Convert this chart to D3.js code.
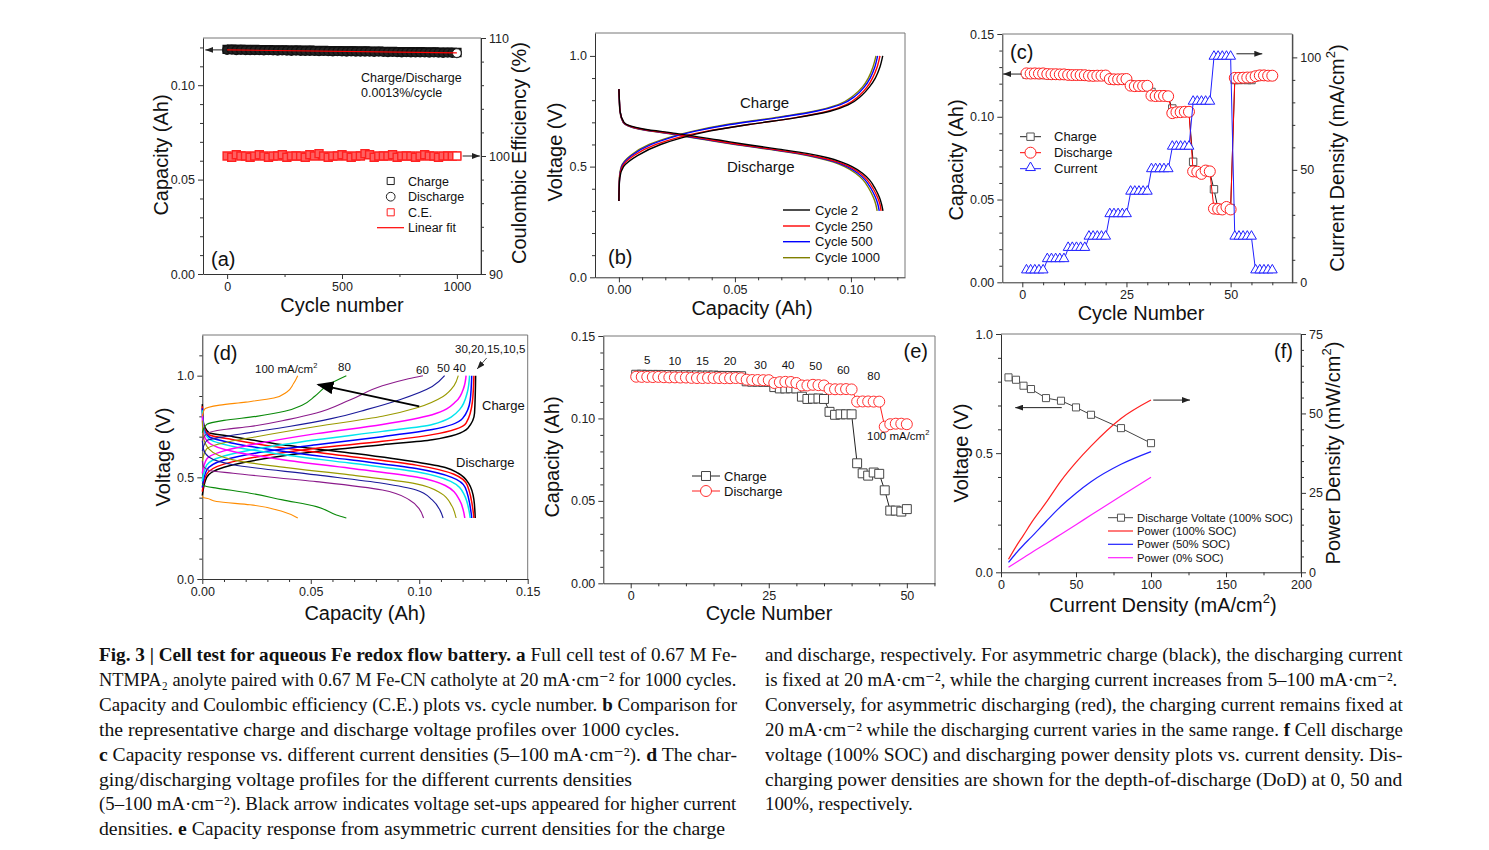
<!DOCTYPE html>
<html><head><meta charset="utf-8">
<script src="https://cdn.jsdelivr.net/npm/d3@7"></script>
<style>body{margin:0;background:#fff;} text.cap{white-space:pre;}</style>
</head><body>
<svg id="fig" width="1489" height="850"></svg>
<script>
// ================= DATA =================
// (a) long cycling
const aCycles=[0,20,40,60,80,100,120,140,160,180,200,220,240,260,280,300,320,340,360,380,400,420,440,460,480,500,520,540,560,580,600,620,640,660,680,700,720,740,760,780,800,820,840,860,880,900,920,940,960,980,1000];
const aCharge=[0.1190,0.1191,0.1189,0.1190,0.1189,0.1188,0.1189,0.1188,0.1187,0.1188,0.1187,0.1186,0.1187,0.1186,0.1185,0.1186,0.1185,0.1184,0.1185,0.1184,0.1183,0.1184,0.1183,0.1182,0.1183,0.1182,0.1181,0.1182,0.1181,0.1180,0.1181,0.1180,0.1179,0.1180,0.1179,0.1178,0.1179,0.1178,0.1177,0.1178,0.1177,0.1176,0.1177,0.1176,0.1175,0.1176,0.1175,0.1174,0.1175,0.1174,0.1173];
const aDischarge=[0.1187,0.1188,0.1186,0.1187,0.1186,0.1185,0.1186,0.1185,0.1184,0.1185,0.1184,0.1183,0.1184,0.1183,0.1182,0.1183,0.1182,0.1181,0.1182,0.1181,0.1180,0.1181,0.1180,0.1179,0.1180,0.1179,0.1178,0.1179,0.1178,0.1177,0.1178,0.1177,0.1176,0.1177,0.1176,0.1175,0.1176,0.1175,0.1174,0.1175,0.1174,0.1173,0.1174,0.1173,0.1172,0.1173,0.1172,0.1171,0.1172,0.1171,0.1170];
const aCE=[100.0,99.9,100.1,100.0,100.0,99.9,100.0,100.1,100.0,99.9,100.0,100.0,100.1,99.9,100.0,100.0,100.0,99.9,100.1,100.0,100.2,100.0,99.9,100.0,100.0,100.1,100.0,99.9,100.0,100.0,100.2,100.1,99.9,100.0,100.0,100.0,100.1,99.9,100.0,100.0,100.0,99.9,100.0,100.1,100.0,100.0,99.9,100.0,100.0,100.0,100.0];
const aFitCycles=[0,1000];
const aFitCap=[0.1187,0.1171];

// (b) voltage profiles: capacity at given voltage levels
const bChargeV=[0.345,0.40,0.45,0.50,0.55,0.60,0.63,0.66,0.69,0.72,0.75,0.78,0.82,0.86,0.90,0.95,1.00];
const bChargeCyc2=[0,0.0001,0.0004,0.0020,0.0080,0.0180,0.0270,0.0390,0.0560,0.0760,0.0910,0.0990,0.1045,0.1080,0.1105,0.1125,0.1137];
const bChargeCyc250=[0,0.0001,0.0003,0.0015,0.0065,0.0160,0.0250,0.0380,0.0560,0.0755,0.0900,0.0980,0.1035,0.1070,0.1093,0.1113,0.1125];
const bChargeCyc500=[0,0.0001,0.0003,0.0012,0.0055,0.0140,0.0220,0.0330,0.0480,0.0680,0.0850,0.0955,0.1020,0.1058,0.1083,0.1103,0.1115];
const bChargeCyc1000=[0,0.0001,0.0002,0.0010,0.0050,0.0130,0.0210,0.0320,0.0465,0.0665,0.0840,0.0945,0.1010,0.1050,0.1075,0.1095,0.1108];
const bDischV=[0.85,0.80,0.75,0.70,0.67,0.65,0.62,0.60,0.58,0.56,0.54,0.52,0.50,0.47,0.44,0.40,0.36,0.33,0.30];
const bDischCyc2=[0,0.0002,0.0005,0.0022,0.0105,0.0245,0.043,0.055,0.068,0.081,0.090,0.0960,0.1005,0.1050,0.1080,0.1105,0.1123,0.1132,0.1138];
const bDischCyc250=[0,0.0002,0.0005,0.0020,0.0095,0.0225,0.040,0.052,0.065,0.078,0.0875,0.0945,0.0993,0.1040,0.1070,0.1096,0.1115,0.1125,0.1130];
const bDischCyc500=[0,0.0002,0.0005,0.0019,0.0090,0.0215,0.039,0.051,0.064,0.077,0.0865,0.0935,0.0983,0.1030,0.1061,0.1087,0.1106,0.1116,0.1122];
const bDischCyc1000=[0,0.0002,0.0004,0.0018,0.0085,0.0205,0.038,0.050,0.063,0.076,0.0855,0.0925,0.0973,0.1020,0.1052,0.1078,0.1097,0.1107,0.1113];
const bNames=["Cycle 2","Cycle 250","Cycle 500","Cycle 1000"];

// (c) rate capability
const cCycles=[1,2,3,4,5,6,7,8,9,10,11,12,13,14,15,16,17,18,19,20,21,22,23,24,25,26,27,28,29,30,31,32,33,34,35,36,37,38,39,40,41,42,43,44,45,46,47,48,49,50,51,52,53,54,55,56,57,58,59,60];
const cCharge=[0.1255,0.1254,0.1254,0.1253,0.1253,0.1252,0.1252,0.1251,0.1251,0.1250,0.1248,0.1247,0.1247,0.1246,0.1246,0.1244,0.1243,0.1243,0.1242,0.1242,0.1225,0.1222,0.1221,0.1221,0.1220,0.1195,0.1182,0.1181,0.1181,0.1180,0.1150,0.1125,0.1122,0.1121,0.1120,0.1050,0.1030,0.1027,0.1027,0.1028,0.0728,0.0668,0.0660,0.0670,0.0665,0.0562,0.0442,0.0440,0.0445,0.0448,0.1222,0.1222,0.1223,0.1222,0.1222,0.1240,0.1243,0.1244,0.1245,0.1245];
const cDischarge=[0.1262,0.1261,0.1262,0.1261,0.1262,0.1258,0.1257,0.1257,0.1256,0.1256,0.1253,0.1252,0.1252,0.1252,0.1251,0.1248,0.1247,0.1248,0.1248,0.1249,0.1228,0.1226,0.1226,0.1227,0.1228,0.1188,0.1185,0.1186,0.1186,0.1187,0.1128,0.1125,0.1126,0.1126,0.1124,0.1022,0.1027,0.1028,0.1030,0.1030,0.0670,0.0668,0.0655,0.0675,0.0670,0.0445,0.0443,0.0440,0.0455,0.0440,0.1235,0.1235,0.1236,0.1237,0.1238,0.1245,0.1250,0.1250,0.1248,0.1248];
const cCurrent=[5,5,5,5,5,10,10,10,10,10,15,15,15,15,15,20,20,20,20,20,30,30,30,30,30,40,40,40,40,40,50,50,50,50,50,60,60,60,60,60,80,80,80,80,80,100,100,100,100,100,20,20,20,20,20,5,5,5,5,5];

// (d) voltage profiles at different current densities, [capacity, voltage]
const dCurrents=[5,10,15,20,30,40,50,60,80,100];
const dCh5=[[0,0.41],[0.002,0.50],[0.01,0.55],[0.025,0.585],[0.0526,0.627],[0.083,0.66],[0.106,0.685],[0.1224,0.742],[0.1255,0.816],[0.126,1.0]];
const dCh10=[[0,0.43],[0.002,0.515],[0.01,0.565],[0.025,0.60],[0.0526,0.643],[0.083,0.677],[0.106,0.71],[0.1216,0.767],[0.1245,0.87],[0.1252,1.0]];
const dCh15=[[0,0.45],[0.002,0.535],[0.01,0.585],[0.025,0.62],[0.0526,0.66],[0.083,0.70],[0.106,0.735],[0.12,0.79],[0.1235,0.88],[0.1242,1.0]];
const dCh20=[[0,0.48],[0.002,0.56],[0.01,0.605],[0.025,0.64],[0.0526,0.685],[0.083,0.726],[0.106,0.76],[0.1186,0.833],[0.1222,0.92],[0.1232,1.0]];
const dCh30=[[0,0.52],[0.002,0.59],[0.01,0.63],[0.025,0.665],[0.0526,0.715],[0.083,0.76],[0.106,0.808],[0.117,0.874],[0.1205,0.94],[0.1216,1.0]];
const dCh40=[[0,0.58],[0.002,0.64],[0.01,0.67],[0.025,0.70],[0.0526,0.75],[0.083,0.80],[0.0986,0.841],[0.111,0.898],[0.116,0.95],[0.118,1.0]];
const dCh50=[[0,0.63],[0.002,0.68],[0.01,0.70],[0.022,0.72],[0.04,0.75],[0.06,0.79],[0.0756,0.833],[0.091,0.882],[0.106,0.947],[0.1117,1.0]];
const dCh60=[[0,0.68],[0.002,0.715],[0.01,0.735],[0.022,0.75],[0.04,0.785],[0.0526,0.816],[0.068,0.88],[0.083,0.95],[0.095,0.985],[0.1017,1.0]];
const dCh80=[[0,0.72],[0.002,0.76],[0.01,0.78],[0.025,0.80],[0.038,0.825],[0.046,0.855],[0.052,0.90],[0.058,0.955],[0.0664,1.0]];
const dCh100=[[0,0.80],[0.001,0.835],[0.008,0.855],[0.02,0.87],[0.033,0.89],[0.039,0.92],[0.042,0.96],[0.044,1.0]];
const dDis5=[[0,0.86],[0.0005,0.77],[0.003,0.72],[0.0142,0.70],[0.037,0.66],[0.068,0.62],[0.0986,0.575],[0.112,0.548],[0.118,0.52],[0.1228,0.47],[0.1252,0.39],[0.1258,0.30]];
const dDis10=[[0,0.85],[0.0005,0.76],[0.003,0.71],[0.0142,0.685],[0.037,0.645],[0.068,0.603],[0.0986,0.56],[0.116,0.515],[0.1222,0.46],[0.1252,0.30]];
const dDis15=[[0,0.84],[0.0005,0.75],[0.003,0.70],[0.0142,0.668],[0.037,0.628],[0.068,0.586],[0.0986,0.543],[0.115,0.50],[0.1212,0.45],[0.1242,0.30]];
const dDis20=[[0,0.83],[0.0005,0.74],[0.003,0.69],[0.0142,0.652],[0.037,0.612],[0.068,0.57],[0.0986,0.527],[0.1145,0.48],[0.1205,0.42],[0.1235,0.30]];
const dDis30=[[0,0.81],[0.0005,0.72],[0.003,0.67],[0.0142,0.627],[0.037,0.587],[0.068,0.545],[0.0986,0.502],[0.112,0.46],[0.1185,0.39],[0.1210,0.30]];
const dDis40=[[0,0.78],[0.0005,0.70],[0.003,0.64],[0.0142,0.586],[0.037,0.55],[0.068,0.512],[0.0986,0.468],[0.110,0.422],[0.1150,0.36],[0.117,0.30]];
const dDis50=[[0,0.68],[0.0005,0.64],[0.003,0.60],[0.0142,0.562],[0.0526,0.512],[0.083,0.471],[0.0986,0.438],[0.106,0.389],[0.1095,0.34],[0.111,0.30]];
const dDis60=[[0,0.58],[0.0005,0.555],[0.003,0.535],[0.0142,0.52],[0.0526,0.479],[0.083,0.438],[0.0955,0.389],[0.1,0.345],[0.102,0.30]];
const dDis80=[[0,0.47],[0.0005,0.46],[0.002,0.455],[0.0066,0.447],[0.022,0.422],[0.037,0.389],[0.0526,0.356],[0.0618,0.315],[0.0664,0.30]];
const dDis100=[[0,0.41],[0.0005,0.40],[0.002,0.397],[0.0066,0.381],[0.022,0.365],[0.037,0.332],[0.044,0.30]];

// (e) asymmetric currents
const eCycles=[1,2,3,4,5,6,7,8,9,10,11,12,13,14,15,16,17,18,19,20,21,22,23,24,25,26,27,28,29,30,31,32,33,34,35,36,37,38,39,40,41,42,43,44,45,46,47,48,49,50];
const eCharge=[0.1265,0.1265,0.1264,0.1264,0.1264,0.1263,0.1263,0.1262,0.1262,0.1262,0.1261,0.1261,0.1260,0.1260,0.1260,0.1258,0.1258,0.1257,0.1257,0.1256,0.1225,0.1223,0.1223,0.1222,0.1222,0.1190,0.1182,0.1182,0.1183,0.1182,0.1132,0.1118,0.1120,0.1121,0.1118,0.1040,0.1022,0.1025,0.1025,0.1025,0.0728,0.0667,0.0653,0.0672,0.0664,0.0564,0.0441,0.0441,0.0435,0.0450];
const eDischarge=[0.1253,0.1252,0.1252,0.1251,0.1252,0.1250,0.1249,0.1249,0.1248,0.1248,0.1246,0.1245,0.1245,0.1246,0.1245,0.1245,0.1244,0.1244,0.1245,0.1244,0.1235,0.1233,0.1233,0.1232,0.1232,0.1215,0.1220,0.1222,0.1221,0.1215,0.1200,0.1200,0.1204,0.1202,0.1200,0.1178,0.1177,0.1177,0.1178,0.1176,0.1102,0.1103,0.1103,0.1102,0.1102,0.0950,0.0965,0.0968,0.0968,0.0965];
const eRateLabels=["5","10","15","20","30","40","50","60","80"];
const eRateLabelCycle=[3,8,13,18,23.5,28.5,33.5,38.5,44];
const eRateLabelCap=[0.1330,0.1325,0.1323,0.1322,0.1300,0.1298,0.1296,0.1270,0.1235];

// (f) discharge voltage and power density
const fCurrent=[5,10,15,20,30,40,50,60,80,100];
const fVoltage=[0.818,0.808,0.783,0.769,0.731,0.720,0.692,0.661,0.605,0.542];
const fPower100=[4.1,8.1,11.7,15.4,21.9,28.8,34.6,39.7,48.4,54.2];
const fPower50=[3.1,6.0,8.6,11.0,16.0,20.8,24.9,28.5,34.0,38.0];
const fPower0=[1.6,3.1,4.6,6.1,9.0,12.0,15.0,18.0,24.0,29.9];

// ticks
const aXMaj=[0,500,1000], aXMin=[250,750];
const aYMaj=[0,0.05,0.10], aYMin=[0.01,0.02,0.03,0.04,0.06,0.07,0.08,0.09,0.11,0.12];
const aRMaj=[90,100,110], aRMin=[92,94,96,98,102,104,106,108];
const bXMaj=[0,0.05,0.10], bXMin=[0.01,0.02,0.03,0.04,0.06,0.07,0.08,0.09,0.11,0.12];
const bYMaj=[0,0.5,1.0], bYMin=[0.1,0.2,0.3,0.4,0.6,0.7,0.8,0.9];
const cXMaj=[0,25,50], cXMin=[5,10,15,20,30,35,40,45,55,60];
const cYMaj=[0,0.05,0.10,0.15], cYMin=[0.01,0.02,0.03,0.04,0.06,0.07,0.08,0.09,0.11,0.12,0.13,0.14];
const cRMaj=[0,50,100], cRMin=[10,20,30,40,60,70,80,90];
const dXMaj=[0,0.05,0.10,0.15], dXMin=[0.01,0.02,0.03,0.04,0.06,0.07,0.08,0.09,0.11,0.12,0.13,0.14];
const dYMaj=[0,0.5,1.0], dYMin=[0.1,0.2,0.3,0.4,0.6,0.7,0.8,0.9,1.1];
const eXMaj=[0,25,50], eXMin=[5,10,15,20,30,35,40,45,55];
const eYMaj=[0,0.05,0.10,0.15], eYMin=[0.01,0.02,0.03,0.04,0.06,0.07,0.08,0.09,0.11,0.12,0.13,0.14];
const fXMaj=[0,50,100,150,200], fXMin=[25,75,125,175];
const fYMaj=[0,0.5,1.0], fYMin=[0.1,0.2,0.3,0.4,0.6,0.7,0.8,0.9];
const fRMaj=[0,25,50,75], fRMin=[5,10,15,20,30,35,40,45,55,60,65,70];

// caption
const capLeft=[
 [["Fig. 3 | Cell test for aqueous Fe redox flow battery.","b"]," ",["a","b"]," Full cell test of 0.67 M Fe-"],
 ["NTMPA₂ anolyte paired with 0.67 M Fe-CN catholyte at 20 mA·cm⁻² for 1000 cycles."],
 ["Capacity and Coulombic efficiency (C.E.) plots vs. cycle number. ",["b","b"]," Comparison for"],
 ["the representative charge and discharge voltage profiles over 1000 cycles."],
 [["c","b"]," Capacity response vs. different current densities (5–100 mA·cm⁻²). ",["d","b"]," The char-"],
 ["ging/discharging voltage profiles for the different currents densities"],
 ["(5–100 mA·cm⁻²). Black arrow indicates voltage set-ups appeared for higher current"],
 ["densities. ",["e","b"]," Capacity response from asymmetric current densities for the charge"]
];
const capLeftEnd=[737,737,737,680,737,632,737,725];
const capRight=[
 ["and discharge, respectively. For asymmetric charge (black), the discharging current"],
 ["is fixed at 20 mA·cm⁻², while the charging current increases from 5–100 mA·cm⁻²."],
 ["Conversely, for asymmetric discharging (red), the charging current remains fixed at"],
 ["20 mA·cm⁻² while the discharging current varies in the same range. ",["f","b"]," Cell discharge"],
 ["voltage (100% SOC) and discharging power density plots vs. current density. Dis-"],
 ["charging power densities are shown for the depth-of-discharge (DoD) at 0, 50 and"],
 ["100%, respectively."]
];
const capRightEnd=[1403,1398,1403,1403,1403,1403,913];

// ================= DRAWING =================
const FONT='"Liberation Sans", Arial, sans-serif';
const svg=d3.select('#fig');
svg.append('rect').attr('width',1489).attr('height',850).attr('fill','#fff');
const defs=svg.append('defs');
defs.append('marker').attr('id','sa').attr('markerUnits','userSpaceOnUse').attr('markerWidth',8).attr('markerHeight',6)
  .attr('refX',8).attr('refY',3).attr('orient','auto').append('path').attr('d','M0,0L8,3L0,6Z').attr('fill','#222');
defs.append('marker').attr('id','ba').attr('markerUnits','userSpaceOnUse').attr('markerWidth',17).attr('markerHeight',13)
  .attr('refX',15).attr('refY',6.5).attr('orient','auto').append('path').attr('d','M0,0L17,6.5L0,13Z').attr('fill','#000');

function panel(box,xDom,yDom,rDom){
  const sx=d3.scaleLinear().domain(xDom).range([box.x0,box.x1]);
  const sy=d3.scaleLinear().domain(yDom).range([box.y0,box.y1]);
  const sr=rDom?d3.scaleLinear().domain(rDom).range([box.y0,box.y1]):null;
  return {g:svg.append('g'),sx,sy,sr,box};
}
function axis(p,orient,scale,maj,min,fmt){
  const b=p.box;
  const gen=orient==='left'?d3.axisLeft:orient==='right'?d3.axisRight:d3.axisBottom;
  const tr=orient==='left'?`translate(${b.x0},0)`:orient==='right'?`translate(${b.x1},0)`:`translate(0,${b.y0})`;
  p.g.append('g').attr('transform',tr).call(gen(scale).tickValues(min).tickSize(3).tickFormat('').tickSizeOuter(0))
   .call(s=>{s.select('.domain').remove();s.selectAll('line').attr('stroke','#333');});
  const ax=p.g.append('g').attr('transform',tr).call(gen(scale).tickValues(maj).tickFormat(d3.format(fmt)).tickSize(5).tickPadding(3).tickSizeOuter(0));
  ax.attr('font-family',FONT).attr('font-size',12.5);
  ax.selectAll('line,path').attr('stroke','#333');
  ax.selectAll('text').attr('fill','#222');
}
function frame(p){const b=p.box;p.g.append('path').attr('d',`M${b.x0},${b.y1}H${b.x1}V${b.y0}`).attr('fill','none').attr('stroke','#777');}
function label(g,x,y,parts,size,anchor,rot,fill){
  const t=g.append('text').attr('font-family',FONT).attr('font-size',size).attr('fill',fill||'#111').attr('text-anchor',anchor||'start');
  if(rot) t.attr('transform',`translate(${x},${y}) rotate(-90)`); else t.attr('x',x).attr('y',y);
  let sh=0;
  (Array.isArray(parts)?parts:[parts]).forEach(pt=>{
    const [s,st]=typeof pt==='string'?[pt,'']:pt;
    const ts=t.append('tspan').text(s);
    const tg=st==='sup'?-size*0.45:0;
    if(tg!==sh){ts.attr('dy',tg-sh);sh=tg;}
    if(st==='sup') ts.attr('font-size',size*0.65);
  });
  return t;
}
function syms(g,n,xf,yf,type,size,stroke,fill,sw){
  g.append('g').selectAll('path').data(d3.range(n)).join('path')
   .attr('transform',i=>`translate(${xf(i)},${yf(i)})`).attr('d',d3.symbol().type(type).size(size))
   .attr('fill',fill||'none').attr('stroke',stroke).attr('stroke-width',sw||1);
}
function arrow(g,x1,y1,x2,y2,m,w){
  g.append('line').attr('x1',x1).attr('y1',y1).attr('x2',x2).attr('y2',y2).attr('stroke',m==='ba'?'#000':'#222').attr('stroke-width',w||1).attr('marker-end',`url(#${m})`);
}

// ---------- (a)
{
 const p=panel({x0:203,x1:481,y0:274,y1:38},[-105,1105],[0,0.125],[90,110]);
 frame(p);
 axis(p,'left',p.sy,aYMaj,aYMin,'.2f');
 axis(p,'right',p.sr,aRMaj,aRMin,'d');
 axis(p,'bottom',p.sx,aXMaj,aXMin,'d');
 syms(p.g,aCycles.length,i=>p.sx(aCycles[i]),i=>p.sr(aCE[i]),d3.symbolSquare,64,'#ff2020','#ff6060',1.4);
 syms(p.g,aCycles.length,i=>p.sx(aCycles[i]),i=>p.sy(aCharge[i]),d3.symbolSquare,64,'#111','#222',1.4);
 syms(p.g,aCycles.length,i=>p.sx(aCycles[i]),i=>p.sy(aDischarge[i]),d3.symbolCircle,60,'#111','#222',1.4);
 const last=aCycles.length-1;
 syms(p.g,1,()=>p.sx(aCycles[last]),()=>p.sy(aDischarge[last]),d3.symbolCircle,60,'#222','#fff',1);
 syms(p.g,1,()=>p.sx(aCycles[last]),()=>p.sr(aCE[last]),d3.symbolSquare,60,'#ff2020','#fff',1);
 p.g.append('path').attr('d',d3.line().x((d,i)=>p.sx(aFitCycles[i])).y((d,i)=>p.sy(aFitCap[i]))(aFitCycles)).attr('stroke','#ff0000').attr('stroke-width',1.2).attr('fill','none');
 arrow(p.g,p.sx(-20),p.sy(0.1187),p.sx(-95),p.sy(0.1187),'sa');
 arrow(p.g,p.sx(1025),p.sr(100),p.sx(1100),p.sr(100),'sa');
 label(p.g,361,82,'Charge/Discharge',12.5);
 label(p.g,361,97,'0.0013%/cycle',12.5);
 const ly=[181,196.7,212.3,227.7];
 syms(p.g,1,()=>390.7,()=>ly[0],d3.symbolSquare,50,'#222');
 syms(p.g,1,()=>390.7,()=>ly[1],d3.symbolCircle,60,'#222');
 syms(p.g,1,()=>390.7,()=>ly[2],d3.symbolSquare,50,'#ff2020');
 p.g.append('line').attr('x1',377).attr('x2',404).attr('y1',ly[3]).attr('y2',ly[3]).attr('stroke','#ff0000').attr('stroke-width',1.2);
 ['Charge','Discharge','C.E.','Linear fit'].forEach((s,i)=>label(p.g,408,ly[i]+4.5,s,12.5));
 label(p.g,211,266,'(a)',20);
 label(p.g,168,155,'Capacity (Ah)',20,'middle',true);
 label(p.g,526,153,'Coulombic Efficiency (%)',20,'middle',true);
 label(p.g,342,312,'Cycle number',20,'middle');
}
// ---------- (b)
{
 const p=panel({x0:595,x1:905,y0:277.3,y1:33},[-0.0103,0.1233],[0,1.1035]);
 frame(p);
 axis(p,'left',p.sy,bYMaj,bYMin,'.1f');
 axis(p,'bottom',p.sx,bXMaj,bXMin,'.2f');
 const cols=['#000000','#ff0000','#0000ff','#808000'];
 const ch=[bChargeCyc2,bChargeCyc250,bChargeCyc500,bChargeCyc1000];
 const di=[bDischCyc2,bDischCyc250,bDischCyc500,bDischCyc1000];
 const line=d3.line().x(d=>p.sx(d[0])).y(d=>p.sy(d[1])).curve(d3.curveMonotoneY);
 [3,2,1,0].forEach(k=>{
  p.g.append('path').attr('d',line(bChargeV.map((v,i)=>[ch[k][i],v]))).attr('stroke',cols[k]).attr('stroke-width',1.4).attr('fill','none');
  p.g.append('path').attr('d',line(bDischV.map((v,i)=>[di[k][i],v]))).attr('stroke',cols[k]).attr('stroke-width',1.4).attr('fill','none');
 });
 label(p.g,740,108,'Charge',15);
 label(p.g,727,172,'Discharge',15);
 const ly=[210,226,241.7,257.7];
 bNames.forEach((s,i)=>{
  p.g.append('line').attr('x1',783).attr('x2',810).attr('y1',ly[i]).attr('y2',ly[i]).attr('stroke',cols[i]).attr('stroke-width',1.4);
  label(p.g,815,ly[i]+4.5,s,13);
 });
 label(p.g,608,264,'(b)',20);
 label(p.g,562,152,'Voltage (V)',20,'middle',true);
 label(p.g,752,315,'Capacity (Ah)',20,'middle');
}
// ---------- (c)
{
 const p=panel({x0:1002.3,x1:1292.3,y0:282.3,y1:34},[-4.8,64.8],[0,0.15],[0,110.4]);
 frame(p);
 axis(p,'left',p.sy,cYMaj,cYMin,'.2f');
 axis(p,'right',p.sr,cRMaj,cRMin,'d');
 axis(p,'bottom',p.sx,cXMaj,cXMin,'d');
 const lx=(d,i)=>p.sx(cCycles[i]);
 p.g.append('path').attr('d',d3.line().x(lx).y((d,i)=>p.sy(cCharge[i]))(cCycles)).attr('stroke','#222').attr('fill','none');
 syms(p.g,cCycles.length,i=>p.sx(cCycles[i]),i=>p.sy(cCharge[i]),d3.symbolSquare,55,'#555','#fff');
 p.g.append('path').attr('d',d3.line().x(lx).y((d,i)=>p.sy(cDischarge[i]))(cCycles)).attr('stroke','#ff0000').attr('fill','none');
 syms(p.g,cCycles.length,i=>p.sx(cCycles[i]),i=>p.sy(cDischarge[i]),d3.symbolCircle,95,'#ff2020','#fff');
 p.g.append('path').attr('d',d3.line().x(lx).y((d,i)=>p.sr(cCurrent[i]))(cCycles)).attr('stroke','#2020ff').attr('fill','none');
 syms(p.g,cCycles.length,i=>p.sx(cCycles[i]),i=>p.sr(cCurrent[i])-1,d3.symbolTriangle,42,'#2020ff','#fff');
 arrow(p.g,p.sx(-0.2),p.sy(0.1258),p.sx(-4.6),p.sy(0.1258),'sa');
 arrow(p.g,p.sx(51.4),p.sr(101.6),p.sx(57.6),p.sr(101.6),'sa');
 const ly=[136.7,152.7,168.7];
 const lc=['#222','#ff0000','#2020ff'];
 ly.forEach((y,i)=>p.g.append('line').attr('x1',1020).attr('x2',1041).attr('y1',y).attr('y2',y).attr('stroke',lc[i]));
 syms(p.g,1,()=>1030.5,()=>ly[0],d3.symbolSquare,55,'#555','#fff');
 syms(p.g,1,()=>1030.5,()=>ly[1],d3.symbolCircle,95,'#ff2020','#fff');
 syms(p.g,1,()=>1030.5,()=>ly[2]-1,d3.symbolTriangle,42,'#2020ff','#fff');
 ['Charge','Discharge','Current'].forEach((s,i)=>label(p.g,1054,ly[i]+4.5,s,13));
 label(p.g,1010,59,'(c)',20);
 label(p.g,963,160,'Capacity (Ah)',20,'middle',true);
 label(p.g,1344,158,['Current Density (mA/cm',['2','sup'],')'],20,'middle',true);
 label(p.g,1141,320,'Cycle Number',20,'middle');
}
// ---------- (d)
{
 const p=panel({x0:202.3,x1:527.7,y0:579,y1:335},[0,0.15],[0,1.2]);
 frame(p);
 axis(p,'left',p.sy,dYMaj,dYMin,'.1f');
 axis(p,'bottom',p.sx,dXMaj,dXMin,'.2f');
 const cols=['#000000','#ff0000','#0000ff','#00e5ee','#ff00ff','#9a9a00','#1a1a9a','#8b1a8b','#0a8a0a','#ff8c00'];
 const ch=[dCh5,dCh10,dCh15,dCh20,dCh30,dCh40,dCh50,dCh60,dCh80,dCh100];
 const di=[dDis5,dDis10,dDis15,dDis20,dDis30,dDis40,dDis50,dDis60,dDis80,dDis100];
 const line=d3.line().x(d=>p.sx(d[0])).y(d=>p.sy(d[1])).curve(d3.curveMonotoneY);
 dCurrents.forEach((c,k)=>{
  const w=k<5?1.5:1.1;
  p.g.append('path').attr('d',line(ch[k])).attr('stroke',cols[k]).attr('stroke-width',w).attr('fill','none');
  p.g.append('path').attr('d',line(di[k])).attr('stroke',cols[k]).attr('stroke-width',w).attr('fill','none');
 });
 arrow(p.g,p.sx(0.1),p.sy(0.849),p.sx(0.0535),p.sy(0.956),'ba',2);
 arrow(p.g,p.sx(0.1311),p.sy(1.087),p.sx(0.1267),p.sy(1.033),'sa',0.8);
 label(p.g,255,373,['100 mA/cm',['2','sup']],11.5);
 label(p.g,338,371,'80',11.5);
 label(p.g,416,374,'60',11.5);
 label(p.g,437,372,'50',11.5);
 label(p.g,453,372,'40',11.5);
 label(p.g,455,353,'30,20,15,10,5',11.5);
 label(p.g,482,410,'Charge',13);
 label(p.g,456,467,'Discharge',13);
 label(p.g,213,360,'(d)',20);
 label(p.g,170,457,'Voltage (V)',20,'middle',true);
 label(p.g,365,620,'Capacity (Ah)',20,'middle');
}
// ---------- (e)
{
 const p=panel({x0:603.3,x1:935,y0:583.3,y1:336},[-4.96,55.1],[0,0.15]);
 frame(p);
 axis(p,'left',p.sy,eYMaj,eYMin,'.2f');
 axis(p,'bottom',p.sx,eXMaj,eXMin,'d');
 const lx=(d,i)=>p.sx(eCycles[i]);
 p.g.append('path').attr('d',d3.line().x(lx).y((d,i)=>p.sy(eCharge[i]))(eCycles)).attr('stroke','#222').attr('fill','none');
 syms(p.g,eCycles.length,i=>p.sx(eCycles[i]),i=>p.sy(eCharge[i]),d3.symbolSquare,80,'#444','#fff');
 p.g.append('path').attr('d',d3.line().x(lx).y((d,i)=>p.sy(eDischarge[i]))(eCycles)).attr('stroke','#ff2020').attr('fill','none');
 syms(p.g,eCycles.length,i=>p.sx(eCycles[i]),i=>p.sy(eDischarge[i]),d3.symbolCircle,95,'#ff3030','#fff');
 eRateLabels.forEach((s,i)=>label(p.g,p.sx(eRateLabelCycle[i]),p.sy(eRateLabelCap[i]),s,11.5,'middle'));
 label(p.g,867,440,['100 mA/cm',['2','sup']],11.5);
 const ly=[476,491];
 p.g.append('line').attr('x1',692).attr('x2',720).attr('y1',ly[0]).attr('y2',ly[0]).attr('stroke','#222');
 p.g.append('line').attr('x1',692).attr('x2',720).attr('y1',ly[1]).attr('y2',ly[1]).attr('stroke','#ff2020');
 syms(p.g,1,()=>706,()=>ly[0],d3.symbolSquare,80,'#444','#fff');
 syms(p.g,1,()=>706,()=>ly[1],d3.symbolCircle,95,'#ff3030','#fff');
 label(p.g,724,ly[0]+4.5,'Charge',13);
 label(p.g,724,ly[1]+4.5,'Discharge',13);
 label(p.g,928,358,'(e)',20,'end');
 label(p.g,559,457,'Capacity (Ah)',20,'middle',true);
 label(p.g,769,620,'Cycle Number',20,'middle');
}
// ---------- (f)
{
 const p=panel({x0:1001,x1:1301,y0:572.3,y1:334},[0,200],[0,1],[0,75]);
 frame(p);
 axis(p,'left',p.sy,fYMaj,fYMin,'.1f');
 axis(p,'right',p.sr,fRMaj,fRMin,'d');
 axis(p,'bottom',p.sx,fXMaj,fXMin,'d');
 const lx=(d,i)=>p.sx(fCurrent[i]);
 p.g.append('path').attr('d',d3.line().x(lx).y((d,i)=>p.sy(fVoltage[i]))(fCurrent)).attr('stroke','#444').attr('fill','none');
 syms(p.g,fCurrent.length,i=>p.sx(fCurrent[i]),i=>p.sy(fVoltage[i]),d3.symbolSquare,50,'#555','#fff');
 const pc=['#ff2020','#2020ff','#ff20ff'];
 [fPower100,fPower50,fPower0].forEach((arr,k)=>{
  p.g.append('path').attr('d',d3.line().x(lx).y((d,i)=>p.sr(arr[i])).curve(d3.curveMonotoneX)(fCurrent)).attr('stroke',pc[k]).attr('stroke-width',1.2).attr('fill','none');
 });
 arrow(p.g,p.sx(40.5),p.sy(0.691),p.sx(9.5),p.sy(0.691),'sa');
 arrow(p.g,p.sx(101.5),p.sr(54.2),p.sx(126),p.sr(54.2),'sa');
 const ly=[517.7,531,544.3,557.7];
 p.g.append('line').attr('x1',1108).attr('x2',1133).attr('y1',ly[0]).attr('y2',ly[0]).attr('stroke','#444');
 syms(p.g,1,()=>1121,()=>ly[0],d3.symbolSquare,50,'#555','#fff');
 pc.forEach((c,i)=>p.g.append('line').attr('x1',1108).attr('x2',1133).attr('y1',ly[i+1]).attr('y2',ly[i+1]).attr('stroke',c).attr('stroke-width',1.2));
 ['Discharge Voltate (100% SOC)','Power (100% SOC)','Power (50% SOC)','Power (0% SOC)'].forEach((s,i)=>label(p.g,1137,ly[i]+4,s,11.3));
 label(p.g,1293,358,'(f)',20,'end');
 label(p.g,968,453,'Voltage (V)',20,'middle',true);
 label(p.g,1340,453,['Power Density (mW/cm',['2','sup'],')'],20,'middle',true);
 label(p.g,1163,612,['Current Density (mA/cm',['2','sup'],')'],20,'middle');
}
// ---------- caption: each segment its own text, line group squeezed to the column width
function capLine(x,y,segs,end){
  const g=svg.append('g');
  let cx=0;
  segs.forEach(s=>{
    const [str,st]=typeof s==='string'?[s,'']:s;
    const t=g.append('text').attr('class','cap').attr('xml:space','preserve').attr('x',cx).attr('y',0)
      .attr('font-family','"Liberation Serif", "DejaVu Serif", serif').attr('font-size',19).attr('fill','#111').text(str);
    if(st==='b') t.attr('font-weight','bold');
    cx+=t.node().getComputedTextLength();
  });
  const k=(end-x)/cx;
  g.attr('transform',`translate(${x},${y}) scale(${k},1)`);
}
capLeft.forEach((segs,i)=>capLine(99,661+i*24.9,segs,capLeftEnd[i]));
capRight.forEach((segs,i)=>capLine(765,661+i*24.9,segs,capRightEnd[i]));
</script>
</body></html>
